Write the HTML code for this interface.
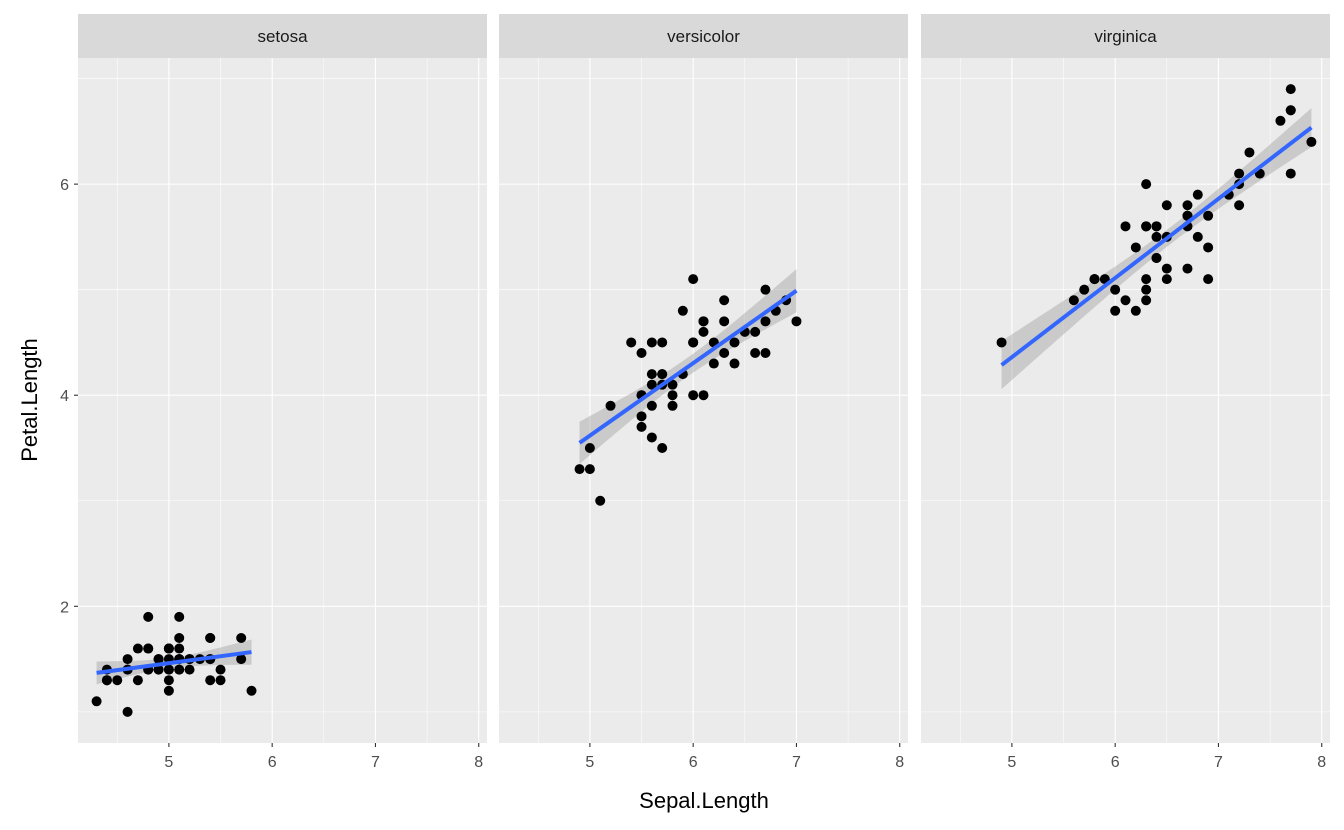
<!DOCTYPE html>
<html><head><meta charset="utf-8"><style>
body{margin:0;background:#fff;}
svg{display:block;font-family:"Liberation Sans",sans-serif;}
</style></head><body>
<svg id="chart" width="1344" height="830" viewBox="0 0 1344 830"></svg>
<script>
const species = ["setosa","versicolor","virginica"];
const setosaSepal = [5.1,4.9,4.7,4.6,5.0,5.4,4.6,5.0,4.4,4.9,5.4,4.8,4.8,4.3,5.8,5.7,5.4,5.1,5.7,5.1,5.4,5.1,4.6,5.1,4.8,5.0,5.0,5.2,5.2,4.7,4.8,5.4,5.2,5.5,4.9,5.0,5.5,4.9,4.4,5.1,5.0,4.5,4.4,5.0,5.1,4.8,5.1,4.6,5.3,5.0];
const setosaPetal = [1.4,1.4,1.3,1.5,1.4,1.7,1.4,1.5,1.4,1.5,1.5,1.6,1.4,1.1,1.2,1.5,1.3,1.4,1.7,1.5,1.7,1.5,1.0,1.7,1.9,1.6,1.6,1.5,1.4,1.6,1.6,1.5,1.5,1.4,1.5,1.2,1.3,1.4,1.3,1.5,1.3,1.3,1.3,1.6,1.9,1.4,1.6,1.4,1.5,1.4];
const versicolorSepal = [7.0,6.4,6.9,5.5,6.5,5.7,6.3,4.9,6.6,5.2,5.0,5.9,6.0,6.1,5.6,6.7,5.6,5.8,6.2,5.6,5.9,6.1,6.3,6.1,6.4,6.6,6.8,6.7,6.0,5.7,5.5,5.5,5.8,6.0,5.4,6.0,6.7,6.3,5.6,5.5,5.5,6.1,5.8,5.0,5.6,5.7,5.7,6.2,5.1,5.7];
const versicolorPetal = [4.7,4.5,4.9,4.0,4.6,4.5,4.7,3.3,4.6,3.9,3.5,4.2,4.0,4.7,3.6,4.4,4.5,4.1,4.5,3.9,4.8,4.0,4.9,4.7,4.3,4.4,4.8,5.0,4.5,3.5,3.8,3.7,3.9,5.1,4.5,4.5,4.7,4.4,4.1,4.0,4.4,4.6,4.0,3.3,4.2,4.2,4.2,4.3,3.0,4.1];
const virginicaSepal = [6.3,5.8,7.1,6.3,6.5,7.6,4.9,7.3,6.7,7.2,6.5,6.4,6.8,5.7,5.8,6.4,6.5,7.7,7.7,6.0,6.9,5.6,7.7,6.3,6.7,7.2,6.2,6.1,6.4,7.2,7.4,7.9,6.4,6.3,6.1,7.7,6.3,6.4,6.0,6.9,6.7,6.9,5.8,6.8,6.7,6.7,6.3,6.5,6.2,5.9];
const virginicaPetal = [6.0,5.1,5.9,5.6,5.8,6.6,4.5,6.3,5.8,6.1,5.1,5.3,5.5,5.0,5.1,5.3,5.5,6.7,6.9,5.0,5.7,4.9,6.7,4.9,5.7,6.0,4.8,4.9,5.6,5.8,6.1,6.4,5.6,5.1,5.6,6.1,5.6,5.5,4.8,5.4,5.6,5.1,5.1,5.9,5.7,5.2,5.0,5.2,5.4,5.1];
const xTicks = [5,6,7,8];
const yTicks = [2,4,6];
const xMinor = [4.5,5.5,6.5,7.5];
const yMinor = [1,3,5,7];

const NS="http://www.w3.org/2000/svg";
const svg=document.getElementById("chart");
function mk(tag,attrs,parent){const e=document.createElementNS(NS,tag);for(const k in attrs)e.setAttribute(k,attrs[k]);(parent||svg).appendChild(e);return e;}

const panelsX=[78,499,921], panelW=409, pTop=58, pBottom=743;
const xmin=4.12, xmax=8.08, ymin=0.705, ymax=7.195;
function sx(p,v){return panelsX[p]+(v-xmin)/(xmax-xmin)*panelW;}
function sy(v){return pBottom-(v-ymin)/(ymax-ymin)*(pBottom-pTop);}
const dataX=[setosaSepal,versicolorSepal,virginicaSepal];
const dataY=[setosaPetal,versicolorPetal,virginicaPetal];

species.forEach((sp,p)=>{
  const g=mk("g",{});
  
  
  const bg=mk("rect",{x:panelsX[p],y:pTop,width:panelW,height:pBottom-pTop,fill:"#EBEBEB"},g);
  
  
  yMinor.forEach(v=>{const l=mk("line",{x1:panelsX[p],x2:panelsX[p]+panelW,y1:sy(v),y2:sy(v),stroke:"#fff","stroke-width":0.55},g);});
  xMinor.forEach(v=>{const l=mk("line",{x1:sx(p,v),x2:sx(p,v),y1:pTop,y2:pBottom,stroke:"#fff","stroke-width":0.55},g);});
  yTicks.forEach(v=>{const l=mk("line",{x1:panelsX[p],x2:panelsX[p]+panelW,y1:sy(v),y2:sy(v),stroke:"#fff","stroke-width":1.1},g);});
  xTicks.forEach(v=>{const l=mk("line",{x1:sx(p,v),x2:sx(p,v),y1:pTop,y2:pBottom,stroke:"#fff","stroke-width":1.1},g);});
  const st=mk("rect",{x:panelsX[p],y:14,width:panelW,height:44,fill:"#D9D9D9"},g);
  
  
  const stt=mk("text",{x:panelsX[p]+panelW/2,y:42,"text-anchor":"middle","font-size":"17","fill":"#1A1A1A"},g);
  stt.textContent=sp;
  
  
  xTicks.forEach(v=>{
    const t=mk("line",{x1:sx(p,v),x2:sx(p,v),y1:pBottom,y2:pBottom+4,stroke:"#333","stroke-width":1.1},g);
    
    const tx=mk("text",{x:sx(p,v),y:pBottom+24,"text-anchor":"middle","font-size":"16",fill:"#4D4D4D"},g);
    tx.textContent=v;
  });
  const X=dataX[p],Y=dataY[p],n=X.length;
  const mx=X.reduce((a,b)=>a+b)/n,my=Y.reduce((a,b)=>a+b)/n;
  let sxx=0,sxy=0;for(let i=0;i<n;i++){sxx+=(X[i]-mx)**2;sxy+=(X[i]-mx)*(Y[i]-my);}
  const b=sxy/sxx,a=my-b*mx;
  let sse=0;for(let i=0;i<n;i++)sse+=(Y[i]-a-b*X[i])**2;
  const s=Math.sqrt(sse/(n-2)),tq=2.0106;
  const lo=Math.min(...X),hi=Math.max(...X);
  const up=[],dn=[];
  for(let k=0;k<=80;k++){const x=lo+(hi-lo)*k/80;const f=a+b*x;const se=s*Math.sqrt(1/n+(x-mx)**2/sxx);up.push(sx(p,x)+","+sy(f+tq*se));dn.unshift(sx(p,x)+","+sy(f-tq*se));}
  const band=mk("polygon",{points:up.concat(dn).join(" "),fill:"#999999","fill-opacity":0.4},g);
  
  for(let i=0;i<n;i++){
    const c=mk("circle",{cx:sx(p,X[i]),cy:sy(Y[i]),r:5,fill:"#000"},g);
    
    
  }
  const ln=mk("line",{x1:sx(p,lo),y1:sy(a+b*lo),x2:sx(p,hi),y2:sy(a+b*hi),stroke:"#3366FF","stroke-width":4},g);
  
});
yTicks.forEach(v=>{
  const t=mk("line",{x1:74,x2:78,y1:sy(v),y2:sy(v),stroke:"#333","stroke-width":1.1});
  
  const tx=mk("text",{x:69,y:sy(v)+6,"text-anchor":"end","font-size":"16",fill:"#4D4D4D"});
  tx.textContent=v;
});
const xt=mk("text",{x:704,y:808,"text-anchor":"middle","font-size":"22",fill:"#000"});
xt.textContent="Sepal.Length";

const yt=mk("text",{x:0,y:0,"text-anchor":"middle","font-size":"22",fill:"#000",transform:"translate(37,400) rotate(-90)"});
yt.textContent="Petal.Length";

</script>
</body></html>
